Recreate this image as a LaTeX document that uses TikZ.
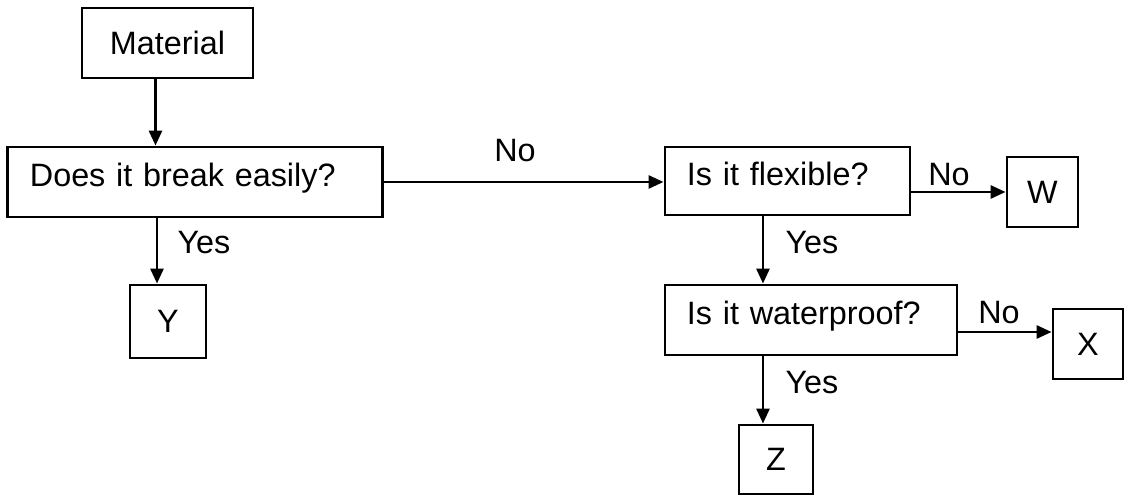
\documentclass[tikz,border=0pt]{standalone}
\usepackage{fontspec}
\setmainfont{Liberation Sans}
\usepackage{tikz}
\usetikzlibrary{calc,arrows.meta}
\tikzset{
  startbox/.style={rectangle, draw=black, line width=0.8pt, align=center, font=\fontsize{9.2}{11}\selectfont, minimum width=1.71cm, minimum height=0.70cm, inner sep=0pt},
  askbox/.style={rectangle, draw=black, line width=0.8pt, align=left, font=\fontsize{9.2}{11}\selectfont, text width=#1, text depth=0.14cm, minimum height=0.70cm, inner xsep=0.22cm, inner ysep=0pt},
  endbox/.style={rectangle, draw=black, line width=0.8pt, align=center, font=\fontsize{9.2}{11}\selectfont, minimum width=0.72cm, minimum height=0.70cm, inner sep=0pt},
  flowarrow/.style={-{Triangle[length=1.5mm,width=1.3mm]}, line width=0.8pt, draw=black},
  arrlabel/.style={font=\fontsize{9.2}{11}\selectfont, inner sep=0pt},
}
\begin{document}
\begin{tikzpicture}[x=0.01cm,y=-0.01cm]
  \useasboundingbox (0,0) rectangle (1126,495);
  \node[startbox] (mat) at (167.5,43) {Material};
  \node[askbox=3.30cm] (brk) at (195,182) {Does it break easily?};
  \node[askbox=2.01cm, minimum height=0.68cm] (flex) at (787.5,181) {Is it flexible?};
  \node[askbox=2.48cm] (wat) at (811,320) {Is it waterproof?};
  \node[endbox, minimum width=0.76cm, minimum height=0.73cm] (y) at (168,321.5) {Y};
  \node[endbox, minimum width=0.71cm] (w) at (1042.5,192) {W};
  \node[endbox, minimum width=0.70cm] (x) at (1088,344) {X};
  \node[endbox, minimum width=0.74cm, minimum height=0.69cm] (z) at (776,459.5) {Z};

  \draw[flowarrow] ([xshift=-0.12cm]mat.south) -- ([xshift=-0.12cm]mat.south |- brk.north);
  \draw[flowarrow] ([xshift=-0.11cm]y.north |- brk.south) -- ([xshift=-0.11cm]y.north);
  \draw[flowarrow] (brk.east) -- (brk.east -| flex.west);
  \draw[flowarrow] (flex.east |- w.west) -- (w.west);
  \draw[flowarrow] ([xshift=-0.245cm]flex.south) -- ([xshift=-0.245cm]flex.south |- wat.north);
  \draw[flowarrow] ([yshift=-0.12cm]wat.east) -- ([yshift=-0.12cm]wat.east -| x.west);
  \draw[flowarrow] ([xshift=-0.13cm]z.north |- wat.south) -- ([xshift=-0.13cm]z.north);

  \node[arrlabel] (yes1) at (204,243) {Yes};
  \node[arrlabel] (no1) at (515,151) {No};
  \node[arrlabel] (no2) at (949,175) {No};
  \node[arrlabel] (yes2) at (812,243) {Yes};
  \node[arrlabel] (no3) at (999,313) {No};
  \node[arrlabel] (yes3) at (812,383) {Yes};
\end{tikzpicture}
\end{document}
